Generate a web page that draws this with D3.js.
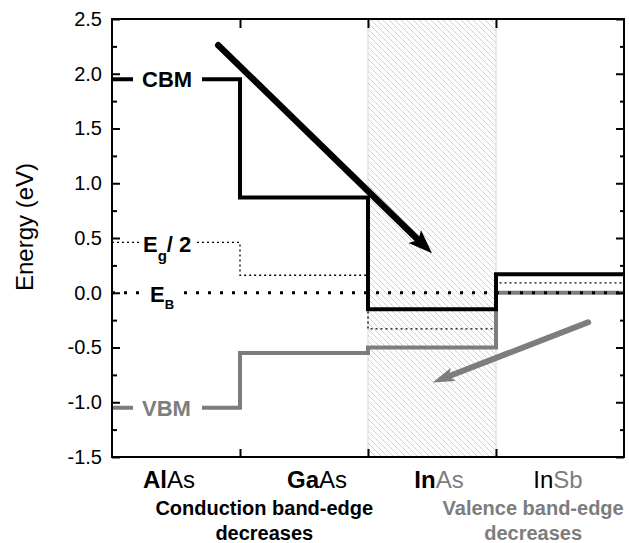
<!doctype html>
<html lang="en">
  <head>
    <meta charset="utf-8">
    <title>Band edges</title>
    <style>
      html, body { margin: 0; padding: 0; background: #fff; }
      svg { display: block; font-family: "Liberation Sans", Arial, sans-serif; }
    </style>
  </head>
  <body>
    <script src="https://cdn.jsdelivr.net/npm/d3@7"></script>
    <script>

    // ---- data ----
    const materials = ["AlAs", "GaAs", "InAs", "InSb"];
    const labelParts = [["Al", "As"], ["Ga", "As"], ["In", "As"], ["In", "Sb"]];
    const cbm  = [1.95, 0.87, -0.15, 0.17];
    const vbm  = [-1.05, -0.55, -0.50, 0.00];
    const midgap = [0.46, 0.16, -0.33, 0.09];
    const eB = 0.0;
    const yTicks = [-1.5, -1.0, -0.5, 0.0, 0.5, 1.0, 1.5, 2.0, 2.5];
    const yMinor = [-1.25, -0.75, -0.25, 0.25, 0.75, 1.25, 1.75, 2.25];
    const hatched = 2;                       // InAs column
    const cbArrow = [[0.83, 2.26], [2.5, 0.36]];
    const vbArrow = [[3.72, -0.27], [2.505, -0.82]];

    const W = 629, H = 543;
    const margin = {top: 19, right: 5, bottom: 86, left: 112};
    const width = W - margin.left - margin.right,
          height = H - margin.top - margin.bottom;

    const svg = d3.select("body").append("svg")
        .attr("width", W).attr("height", H);

    const g = svg.append("g")
        .attr("transform", `translate(${margin.left},${margin.top})`);

    const x = d3.scaleLinear().domain([0, materials.length]).range([0, width]);
    const y = d3.scaleLinear().domain([-1.5, 2.5]).range([height, 0]);

    const grey = "#7d7d7d";

    // hatch pattern
    const defs = svg.append("defs");
    defs.append("pattern")
        .attr("id", "hatch")
        .attr("patternUnits", "userSpaceOnUse")
        .attr("width", 6).attr("height", 6)
      .append("path")
        .attr("d", "M-1,-1 L7,7 M-1,5 L1,7 M5,-1 L7,1")
        .attr("stroke", "#cfcfcf")
        .attr("stroke-width", 1);

    g.append("rect")
        .attr("x", x(hatched)).attr("y", 0)
        .attr("width", x(hatched + 1) - x(hatched))
        .attr("height", height)
        .attr("fill", "url(#hatch)")
        .attr("stroke", "#d6d6d6")
        .attr("stroke-width", 1);

    // step lines
    const stepData = arr => arr.map((v, i) => [i, v]).concat([[arr.length, arr[arr.length - 1]]]);
    const step = d3.line()
        .x(d => x(d[0]))
        .y(d => y(d[1]))
        .curve(d3.curveStepAfter);

    g.append("path")
        .attr("d", step(stepData(midgap)))
        .attr("fill", "none")
        .attr("stroke", "#000")
        .attr("stroke-width", 1.3)
        .attr("stroke-dasharray", "2 3");

    g.append("path")
        .attr("d", step(stepData(vbm)))
        .attr("fill", "none")
        .attr("stroke", grey)
        .attr("stroke-width", 4);

    g.append("path")
        .attr("d", step(stepData(cbm)))
        .attr("fill", "none")
        .attr("stroke", "#000")
        .attr("stroke-width", 4);

    g.append("line")
        .attr("x1", 0).attr("x2", width)
        .attr("y1", y(eB)).attr("y2", y(eB))
        .attr("stroke", "#000")
        .attr("stroke-width", 3)
        .attr("stroke-dasharray", "3 9");

    // labels on the lines (white behind text breaks the line)
    function lineLabel(x0, x1, yv, h) {
      g.append("rect")
        .attr("x", x0).attr("width", x1 - x0)
        .attr("y", y(yv) - h / 2).attr("height", h)
        .attr("fill", "#fff");
    }
    lineLabel(21, 90, cbm[0], 10);
    lineLabel(21, 90, vbm[0], 10);
    lineLabel(28, 85, midgap[0], 6);
    lineLabel(30, 70, eB, 8);

    g.append("text")
        .attr("x", 30).attr("y", y(cbm[0]) + 8)
        .style("font-size", "22px").style("font-weight", "bold")
        .text("CBM");

    g.append("text")
        .attr("x", 30).attr("y", y(vbm[0]) + 8)
        .style("font-size", "22px").style("font-weight", "bold")
        .attr("fill", grey)
        .text("VBM");

    const egText = g.append("text")
        .attr("x", 31).attr("y", y(midgap[0]) + 10)
        .style("font-size", "22px").style("font-weight", "bold");
    egText.append("tspan").text("E");
    egText.append("tspan").attr("dy", 9).style("font-size", "15px").text("g");
    egText.append("tspan").attr("dy", -9).text("/ 2");

    const ebText = g.append("text")
        .attr("x", 38).attr("y", y(eB) + 9)
        .style("font-size", "22px").style("font-weight", "bold");
    ebText.append("tspan").text("E");
    ebText.append("tspan").attr("dy", 7).style("font-size", "13px").text("B");

    // arrows
    function arrow(pts, color, lw, hl, hw) {
      const [p0, p1] = pts.map(p => [x(p[0]), y(p[1])]);
      const dx = p1[0] - p0[0], dy = p1[1] - p0[1];
      const L = Math.hypot(dx, dy), ux = dx / L, uy = dy / L;
      const bx = p1[0] - ux * hl, by = p1[1] - uy * hl;
      g.append("line")
        .attr("x1", p0[0]).attr("y1", p0[1])
        .attr("x2", bx + ux * 4).attr("y2", by + uy * 4)
        .attr("stroke", color)
        .attr("stroke-width", lw)
        .attr("stroke-linecap", "round");
      const nx = -uy, ny = ux;
      const notch = [p1[0] - ux * hl * 0.8, p1[1] - uy * hl * 0.8];
      g.append("path")
        .attr("d", `M${p1[0]},${p1[1]} L${bx + nx * hw},${by + ny * hw} L${notch[0]},${notch[1]} L${bx - nx * hw},${by - ny * hw} Z`)
        .attr("fill", color);
    }
    arrow(cbArrow, "#000", 6.5, 24, 9);
    arrow(vbArrow, grey, 6, 22, 7);

    // axes
    const fmt = d => d.toFixed(1);
    const yAxis = g.append("g")
        .call(d3.axisLeft(y).tickValues(yTicks).tickFormat(fmt).tickSizeInner(-8).tickSizeOuter(0).tickPadding(10));
    yAxis.select(".domain").remove();
    yAxis.selectAll("text")
        .style("font-size", "20px")
        .style("font-family", "'Liberation Sans', Arial, sans-serif")
        .attr("fill", "#000");

    const yMinorAxis = g.append("g")
        .call(d3.axisLeft(y).tickValues(yMinor).tickFormat("").tickSizeInner(-5).tickSizeOuter(0));
    yMinorAxis.select(".domain").remove();

    const rAxis = g.append("g").attr("transform", `translate(${width},0)`)
        .call(d3.axisRight(y).tickValues(yTicks).tickFormat("").tickSizeInner(-8).tickSizeOuter(0));
    rAxis.select(".domain").remove();
    const rMinor = g.append("g").attr("transform", `translate(${width},0)`)
        .call(d3.axisRight(y).tickValues(yMinor).tickFormat("").tickSizeInner(-4).tickSizeOuter(0));
    rMinor.select(".domain").remove();

    const bounds = d3.range(1, materials.length);
    const tAxis = g.append("g")
        .call(d3.axisTop(x).tickValues(bounds).tickFormat("").tickSizeInner(-9).tickSizeOuter(0));
    tAxis.select(".domain").remove();
    const bAxis = g.append("g").attr("transform", `translate(0,${height})`)
        .call(d3.axisBottom(x).tickValues(bounds).tickFormat("").tickSizeInner(-8).tickSizeOuter(0));
    bAxis.select(".domain").remove();

    g.selectAll(".tick line").attr("stroke", "#000").attr("stroke-width", 2);

    g.append("rect")
        .attr("width", width).attr("height", height)
        .attr("fill", "none")
        .attr("stroke", "#000")
        .attr("stroke-width", 2);

    // y label
    svg.append("text")
        .attr("transform", `translate(33,${227}) rotate(-90)`)
        .attr("text-anchor", "middle")
        .style("font-size", "24px")
        .text("Energy (eV)");

    // category labels
    const catShift = [-7, 13, 7, -2];
    const firstBold = [true, true, true, false];
    const secondGrey = [false, false, true, true];
    labelParts.forEach((parts, i) => {
      const t = g.append("text")
        .attr("x", x(i + 0.5) + catShift[i])
        .attr("y", height + 31)
        .attr("text-anchor", "middle")
        .style("font-size", "24px");
      t.append("tspan").text(parts[0])
        .style("font-weight", firstBold[i] ? "bold" : "normal")
        .attr("fill", "#000");
      t.append("tspan").text(parts[1])
        .attr("fill", secondGrey[i] ? grey : "#000");
    });

    // notes under the axis
    const notes = [
      {lines: ["Conduction band-edge", "decreases"], cx: 1.19, color: "#000"},
      {lines: ["Valence band-edge", "decreases"], cx: 3.29, color: grey}
    ];
    notes.forEach(n => {
      n.lines.forEach((s, j) => {
        g.append("text")
          .attr("x", x(n.cx))
          .attr("y", height + 58 + j * 25)
          .attr("text-anchor", "middle")
          .style("font-size", "20px")
          .style("font-weight", "bold")
          .attr("fill", n.color)
          .text(s);
      });
    });

    </script>
  </body>
</html>
